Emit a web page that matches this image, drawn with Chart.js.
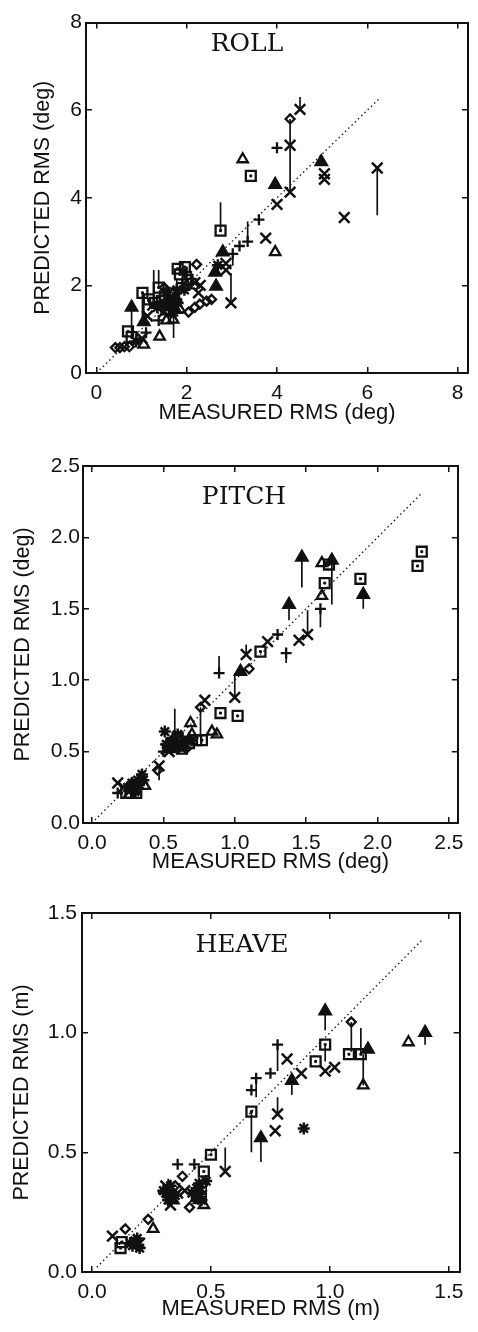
<!DOCTYPE html>
<html>
<head>
<meta charset="utf-8">
<script src="https://cdn.jsdelivr.net/npm/chart.js@4.4.1/dist/chart.umd.min.js"></script>
<style>
  body { margin: 0; background: #fff; }
  canvas { display: block; }
</style>
</head>
<body>
<canvas id="roll" width="478" height="440"></canvas>
<canvas id="pitch" width="478" height="440"></canvas>
<canvas id="heave" width="478" height="452"></canvas>
<script>
// rows are [measured, predicted, other predicted end of the vertical bar or null]

// ROLL (deg)
const rollTicks = [0, 2, 4, 6, 8];
const rollIdentity = [0, 6.25];
const rollSquares = [[0.70, 0.95], [0.78, 0.82], [1.02, 1.83, 1.24], [1.16, 1.68], [1.38, 1.95, 2.35],
  [1.30, 1.60], [1.45, 1.65], [1.52, 1.75], [1.55, 1.45], [1.62, 1.58], [1.68, 1.55], [1.72, 1.82],
  [1.80, 2.38], [1.85, 2.25], [1.96, 2.42], [2.02, 2.12], [2.75, 3.25, 3.90], [3.42, 4.50]];
const rollDiamonds = [[0.42, 0.58], [0.52, 0.58], [0.62, 0.60], [0.73, 0.60], [1.50, 1.95], [2.04, 1.39],
  [2.18, 1.50], [2.29, 1.57], [2.44, 1.64], [2.55, 1.68], [2.22, 2.48], [4.29, 5.80, 4.13]];
const rollTriFilled = [[0.78, 1.50, 0.78], [1.05, 1.17, 1.62], [1.60, 1.55], [1.75, 1.72], [1.75, 1.45],
  [2.65, 1.98], [2.63, 2.30], [2.80, 2.76], [3.96, 4.30], [4.98, 4.82]];
const rollTriOpen = [[1.05, 0.65], [1.40, 0.83], [1.55, 1.20], [1.70, 1.22], [1.85, 1.45], [2.00, 2.00],
  [3.24, 4.88], [3.96, 2.76]];
const rollPlus = [[1.10, 0.92], [1.38, 1.20], [1.27, 1.60, 2.35], [1.90, 2.05], [2.00, 2.30], [2.10, 2.15],
  [3.02, 2.72, 2.45], [3.17, 2.90], [3.35, 3.00, 3.46], [3.60, 3.50], [4.00, 5.14]];
const rollCross = [[1.01, 0.79], [1.13, 1.30], [1.25, 1.55], [1.50, 1.40], [2.26, 1.83], [2.18, 2.06],
  [2.30, 2.00], [2.87, 2.50], [2.87, 2.35], [2.98, 1.60, 2.28], [3.75, 3.08], [4.00, 3.85], [4.29, 4.13],
  [4.29, 5.20], [4.51, 6.02, 6.30], [5.05, 4.55], [5.05, 4.42], [5.49, 3.55], [6.22, 4.68, 3.60]];
const rollStar = [[0.88, 0.72], [1.35, 1.50], [1.45, 1.55], [1.55, 1.85], [1.60, 1.70], [1.71, 1.39, 0.80],
  [1.78, 1.90, 2.15], [1.80, 1.60], [1.95, 1.90], [2.69, 2.46]];

// PITCH (deg)
const pitchTicks = [0, 0.5, 1, 1.5, 2, 2.5];
const pitchIdentity = [0.02, 2.3];
const pitchSquares = [[0.24, 0.21], [0.27, 0.21], [0.31, 0.21], [0.56, 0.56], [0.60, 0.60], [0.63, 0.52],
  [0.68, 0.56], [0.73, 0.58], [0.77, 0.58], [0.90, 0.77], [1.02, 0.75], [1.18, 1.20], [1.63, 1.68],
  [1.66, 1.81], [1.88, 1.71], [2.28, 1.80], [2.31, 1.90]];
const pitchDiamonds = [[0.46, 0.37], [0.60, 0.52], [0.66, 0.52], [0.76, 0.81, 0.60], [1.10, 1.08]];
const pitchTriFilled = [[0.55, 0.52], [0.62, 0.53], [0.68, 0.58], [1.04, 1.06], [1.38, 1.53, 1.42],
  [1.47, 1.86, 1.65], [1.68, 1.84, 1.53], [1.90, 1.60, 1.50]];
const pitchTriOpen = [[0.28, 0.27], [0.37, 0.26], [0.34, 0.31], [0.62, 0.58], [0.69, 0.70], [0.70, 0.62],
  [0.84, 0.64], [0.875, 0.62], [1.61, 1.59], [1.61, 1.82]];
const pitchPlus = [[0.18, 0.21], [0.50, 0.50], [0.58, 0.53, 0.80], [0.89, 1.05, 1.17], [1.30, 1.32],
  [1.36, 1.19, 1.12], [1.60, 1.50, 1.37]];
const pitchCross = [[0.18, 0.28], [0.22, 0.25], [0.26, 0.22], [0.30, 0.24], [0.47, 0.40, 0.30], [0.52, 0.52],
  [0.54, 0.50], [0.57, 0.55], [0.79, 0.86], [1.00, 0.88, 1.05], [1.08, 1.18, 1.25], [1.23, 1.27],
  [1.45, 1.28], [1.51, 1.32, 1.49]];
const pitchStar = [[0.25, 0.25], [0.28, 0.28], [0.30, 0.22], [0.32, 0.30], [0.33, 0.27], [0.35, 0.34],
  [0.36, 0.30], [0.51, 0.64], [0.52, 0.55], [0.55, 0.57], [0.58, 0.58, 0.72], [0.60, 0.62], [0.62, 0.55],
  [0.65, 0.57]];

// HEAVE (m)
const heaveTicks = [0, 0.5, 1, 1.5];
const heaveIdentity = [0.02, 1.39];
const heaveSquares = [[0.12, 0.10], [0.125, 0.125], [0.47, 0.42], [0.50, 0.49], [0.67, 0.67, 0.50],
  [0.94, 0.88], [0.98, 0.95, 0.88], [1.08, 0.91], [1.13, 0.91, 1.02]];
const heaveDiamonds = [[0.14, 0.18], [0.236, 0.22], [0.35, 0.36], [0.38, 0.40], [0.41, 0.27], [0.47, 0.37],
  [1.09, 1.045, 0.92]];
const heaveTriFilled = [[0.33, 0.33], [0.34, 0.30], [0.44, 0.31], [0.45, 0.34], [0.71, 0.56, 0.46],
  [0.84, 0.80, 0.74], [0.98, 1.09, 1.01], [1.16, 0.93], [1.40, 1.00, 0.95]];
const heaveTriOpen = [[0.257, 0.18], [0.45, 0.30], [0.47, 0.28], [1.14, 0.78, 0.91], [1.33, 0.96]];
const heavePlus = [[0.30, 0.33], [0.36, 0.45], [0.43, 0.45], [0.67, 0.76], [0.69, 0.81, 0.73], [0.75, 0.83],
  [0.78, 0.95, 0.84]];
const heaveCross = [[0.086, 0.15], [0.20, 0.12], [0.31, 0.36], [0.33, 0.28], [0.36, 0.33], [0.39, 0.34],
  [0.46, 0.32], [0.56, 0.42, 0.52], [0.77, 0.59], [0.78, 0.66, 0.73], [0.82, 0.89], [0.88, 0.83],
  [0.98, 0.84], [1.02, 0.855]];
const heaveStar = [[0.16, 0.12], [0.17, 0.11], [0.18, 0.13], [0.19, 0.14], [0.20, 0.10], [0.30, 0.34],
  [0.31, 0.33], [0.32, 0.30, 0.39], [0.33, 0.36], [0.35, 0.32], [0.42, 0.33], [0.44, 0.35], [0.45, 0.37],
  [0.46, 0.30], [0.48, 0.38, 0.29], [0.89, 0.60]];

const INK = '#111';
const SANS = '"Liberation Sans", Arial, sans-serif';

const pts = rows => rows.map(r => ({ x: r[0], y: r[1] }));

// vertical bars between the two predictions, broken by null points
const stems = groups => {
  const out = [];
  groups.forEach(rows => rows.forEach(r => {
    if (r[2] != null) {
      out.push({ x: r[0], y: r[1] }, { x: r[0], y: r[2] }, { x: r[0], y: null });
    }
  }));
  return out;
};

const marker = (rows, style, radius, filled, width = 2.3) => ({
  data: pts(rows),
  showLine: false,
  pointStyle: style,
  pointRadius: radius,
  pointBorderWidth: width,
  pointBorderColor: INK,
  pointBackgroundColor: filled ? INK : 'rgba(0,0,0,0)',
});

const panelLabel = {
  id: 'panelLabel',
  afterDatasetsDraw(chart, args, opts) {
    const { ctx } = chart;
    ctx.save();
    ctx.font = '25px "DejaVu Serif", serif';
    ctx.fillStyle = INK;
    ctx.textAlign = 'center';
    ctx.textBaseline = 'middle';
    ctx.fillText(opts.text, opts.x, opts.y);
    ctx.restore();
  },
};

function makePanel(id, p) {
  const canvas = document.getElementById(id);
  const H = canvas.height;
  const groups = [p.squares, p.diamonds, p.triFilled, p.triOpen, p.plus, p.cross, p.star];
  const setTicks = s => { s.ticks = p.ticks.map(v => ({ value: v })); };
  const fmt = v => Number(v).toFixed(p.decimals);
  const grid = { drawOnChartArea: false, drawTicks: true, tickLength: -6, color: INK, lineWidth: 1.5 };
  const border = { display: true, color: INK, width: 2 };

  new Chart(canvas, {
    type: 'scatter',
    data: {
      datasets: [
        {
          data: [{ x: p.identity[0], y: p.identity[0] }, { x: p.identity[1], y: p.identity[1] }],
          showLine: true, borderColor: INK, borderWidth: 1.3, borderDash: [1.5, 3], pointRadius: 0,
        },
        { data: stems(groups), showLine: true, spanGaps: false, borderColor: INK, borderWidth: 1.7, pointRadius: 0 },
        marker(p.squares, 'rect', 7, false),
        marker(p.squares, 'rect', 1.4, true, 1),
        marker(p.diamonds, 'rectRot', 4.5, false),
        marker(p.triFilled, 'triangle', 6.5, true),
        marker(p.triOpen, 'triangle', 6, false),
        marker(p.plus, 'cross', 5.5, false),
        marker(p.cross, 'crossRot', 7.5, false, 2.5),
        marker(p.star, 'star', 6, false, 2.5),
      ],
    },
    options: {
      responsive: false,
      animation: false,
      events: [],
      layout: { padding: { top: p.area.top, right: canvas.width - p.area.right, left: 0, bottom: 0 } },
      plugins: {
        legend: { display: false },
        tooltip: { enabled: false },
        panelLabel: p.label,
      },
      scales: {
        x: {
          type: 'linear', position: 'bottom', min: p.xRange[0], max: p.xRange[1],
          afterBuildTicks: setTicks,
          afterFit: s => { s.height = H - p.area.bottom; },
          grid, border,
          ticks: { font: { family: SANS, size: 21 }, color: INK, padding: 14, callback: fmt },
          title: {
            display: true, text: p.xTitle, color: INK,
            font: { family: SANS, size: 22 }, padding: { top: 0, bottom: p.xTitlePad },
          },
        },
        y: {
          type: 'linear', position: 'left', min: p.yRange[0], max: p.yRange[1],
          afterBuildTicks: setTicks,
          afterFit: s => { s.width = p.area.left; },
          grid, border,
          ticks: { font: { family: SANS, size: 21 }, color: INK, padding: 6 + p.yLabelGap, callback: fmt },
          title: {
            display: true, text: p.yTitle, color: INK,
            font: { family: SANS, size: 21.5 }, padding: { top: p.yTitlePad, bottom: 0 },
          },
        },
        xTop: {
          type: 'linear', position: 'top', min: p.xRange[0], max: p.xRange[1],
          afterBuildTicks: setTicks,
          afterFit: s => { s.height = 0; },
          grid, border, ticks: { display: false },
        },
        yRight: {
          type: 'linear', position: 'right', min: p.yRange[0], max: p.yRange[1],
          afterBuildTicks: setTicks,
          afterFit: s => { s.width = 0; },
          grid, border, ticks: { display: false },
        },
      },
    },
    plugins: [panelLabel],
  });
}

makePanel('roll', {
  ticks: rollTicks, decimals: 0, identity: rollIdentity,
  squares: rollSquares, diamonds: rollDiamonds, triFilled: rollTriFilled, triOpen: rollTriOpen,
  plus: rollPlus, cross: rollCross, star: rollStar,
  xRange: [-0.23, 8.23], yRange: [0, 8],
  area: { left: 86, right: 473, top: 15, bottom: 373 },
  xTitle: 'MEASURED RMS (deg)', yTitle: 'PREDICTED RMS (deg)',
  xTitlePad: 13.8, yTitlePad: 30.6, yLabelGap: 4,
  label: { text: 'ROLL', x: 247, y: 44 },
});

makePanel('pitch', {
  ticks: pitchTicks, decimals: 1, identity: pitchIdentity,
  squares: pitchSquares, diamonds: pitchDiamonds, triFilled: pitchTriFilled, triOpen: pitchTriOpen,
  plus: pitchPlus, cross: pitchCross, star: pitchStar,
  xRange: [-0.063, 2.562], yRange: [0, 2.5],
  area: { left: 83, right: 471, top: 26, bottom: 383 },
  xTitle: 'MEASURED RMS (deg)', yTitle: 'PREDICTED RMS (deg)',
  xTitlePad: 5, yTitlePad: 9.8, yLabelGap: 3,
  label: { text: 'PITCH', x: 244, y: 57 },
});

makePanel('heave', {
  ticks: heaveTicks, decimals: 1, identity: heaveIdentity,
  squares: heaveSquares, diamonds: heaveDiamonds, triFilled: heaveTriFilled, triOpen: heaveTriOpen,
  plus: heavePlus, cross: heaveCross, star: heaveStar,
  xRange: [-0.042, 1.545], yRange: [0, 1.5],
  area: { left: 82, right: 470, top: 33, bottom: 392 },
  xTitle: 'MEASURED RMS (m)', yTitle: 'PREDICTED RMS (m)',
  xTitlePad: 9.8, yTitlePad: 9.6, yLabelGap: 5,
  label: { text: 'HEAVE', x: 242, y: 65 },
});
</script>
</body>
</html>
